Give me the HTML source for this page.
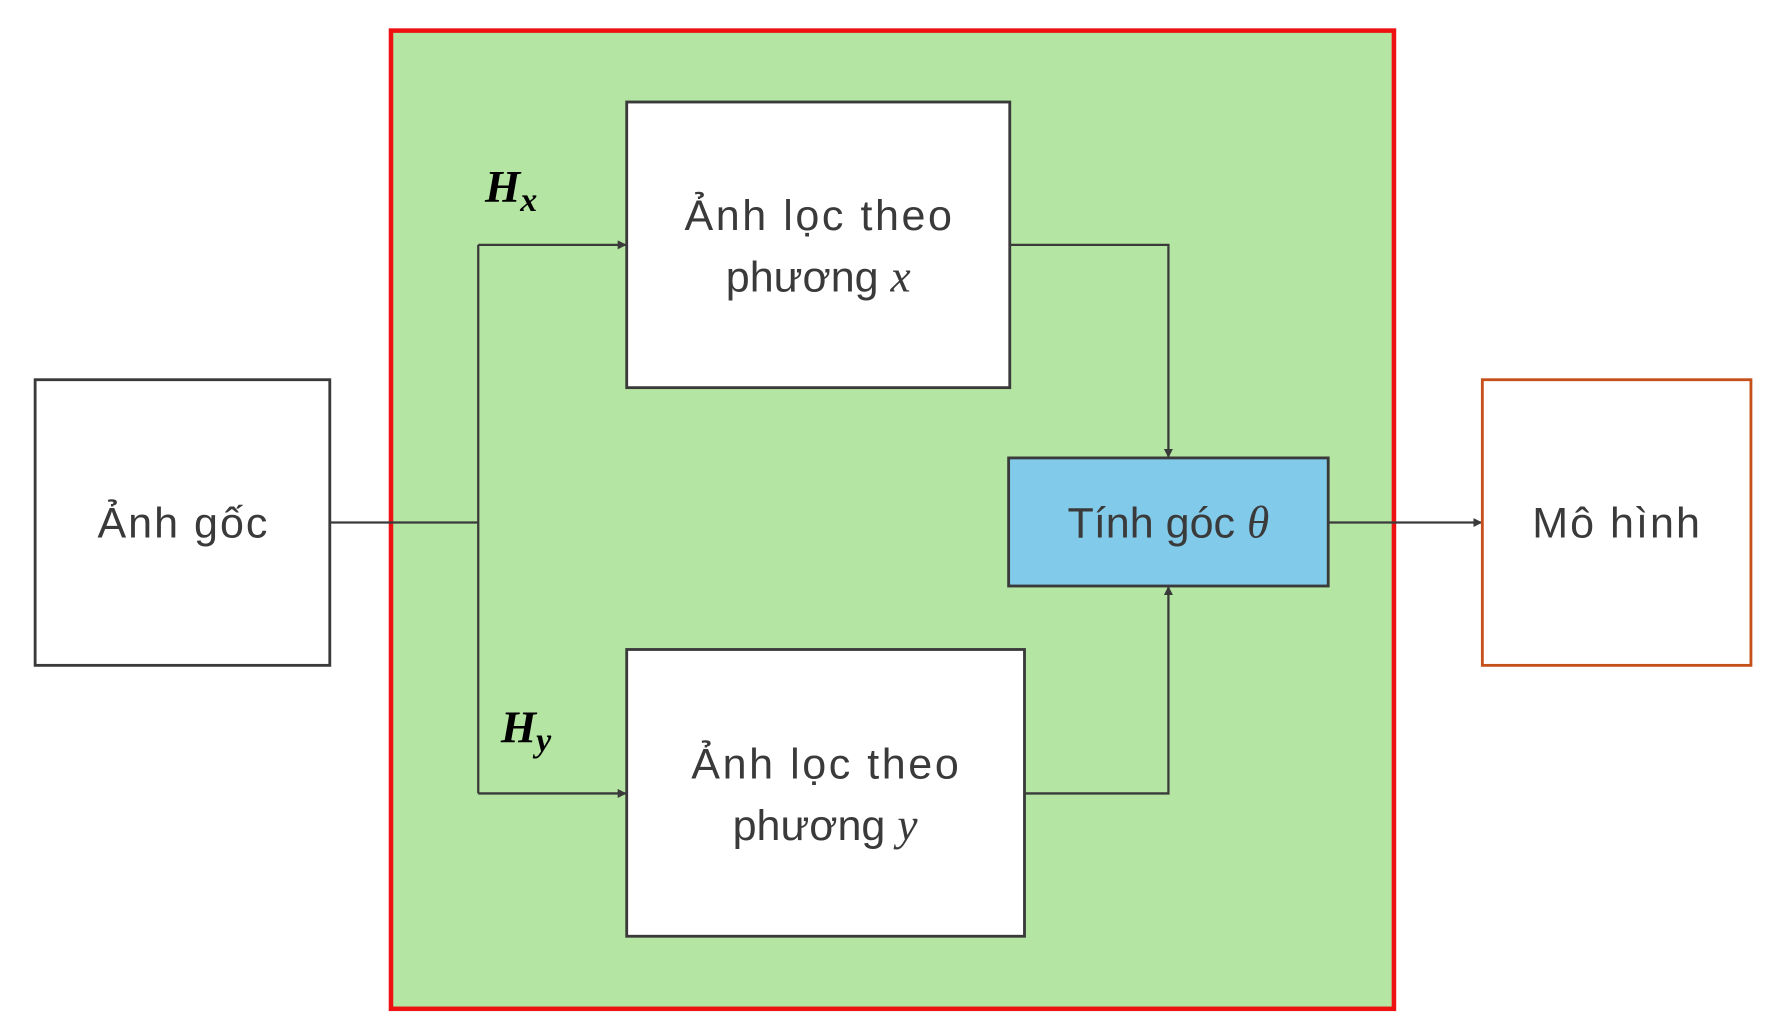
<!DOCTYPE html>
<html><head><meta charset="utf-8"><style>
html,body{margin:0;padding:0;background:#fff;width:1777px;height:1036px;overflow:hidden}
text{font-family:"Liberation Sans","DejaVu Sans",sans-serif;fill:#3a3a3a}
.m{font-family:"Liberation Serif","DejaVu Serif",serif;font-style:italic}
</style></head><body>
<svg width="1777" height="1036" viewBox="0 0 1568 914" preserveAspectRatio="none">
<defs><marker id="ar" markerWidth="8" markerHeight="8" refX="7" refY="4" orient="auto" markerUnits="userSpaceOnUse"><path d="M0,0 L8,4 L0,8 z" fill="#3a3a3a"/></marker></defs>
<rect x="345" y="27" width="885" height="863" fill="#b4e5a2" stroke="#ee1111" stroke-width="4"/>
<g stroke="#3a3a3a" stroke-width="2" fill="none">
<path d="M291,461 H422"/>
<path d="M422,216 V700"/>
<path d="M422,216 H552" marker-end="url(#ar)"/>
<path d="M422,700 H552" marker-end="url(#ar)"/>
<path d="M891,216 H1031 V403" marker-end="url(#ar)"/>
<path d="M904,700 H1031 V518" marker-end="url(#ar)"/>
<path d="M1172,461 H1307" marker-end="url(#ar)"/>
</g>
<rect x="31" y="335" width="260" height="252" fill="#fff" stroke="#3a3a3a" stroke-width="2.5"/>
<text x="161" y="474" font-size="38" text-anchor="middle" textLength="150">Ảnh gốc</text>
<rect x="553" y="90" width="338" height="252" fill="#fff" stroke="#3a3a3a" stroke-width="2.5"/>
<text x="722" y="203" font-size="38" text-anchor="middle" textLength="236">Ảnh lọc theo</text>
<text x="722" y="257" font-size="38" text-anchor="middle">phương <tspan class="m" font-size="40">x</tspan></text>
<rect x="553" y="573" width="351" height="253" fill="#fff" stroke="#3a3a3a" stroke-width="2.5"/>
<text x="728" y="687" font-size="38" text-anchor="middle" textLength="236">Ảnh lọc theo</text>
<text x="728" y="741" font-size="38" text-anchor="middle">phương <tspan class="m" font-size="40">y</tspan></text>
<rect x="890" y="404" width="282" height="113" fill="#82caea" stroke="#3a3a3a" stroke-width="2.5"/>
<text x="1031" y="474" font-size="38" text-anchor="middle">Tính góc <tspan class="m" font-size="40">θ</tspan></text>
<rect x="1308" y="335" width="237" height="252" fill="#fff" stroke="#c5501a" stroke-width="2.5"/>
<text x="1426" y="474" font-size="38" text-anchor="middle" textLength="148">Mô hình</text>
<text x="428" y="178" font-size="40" font-weight="bold" class="m" style="fill:#000">H<tspan font-size="30" dy="8">x</tspan></text>
<text x="442" y="655" font-size="40" font-weight="bold" class="m" style="fill:#000">H<tspan font-size="30" dy="8">y</tspan></text>
</svg>
</body></html>
